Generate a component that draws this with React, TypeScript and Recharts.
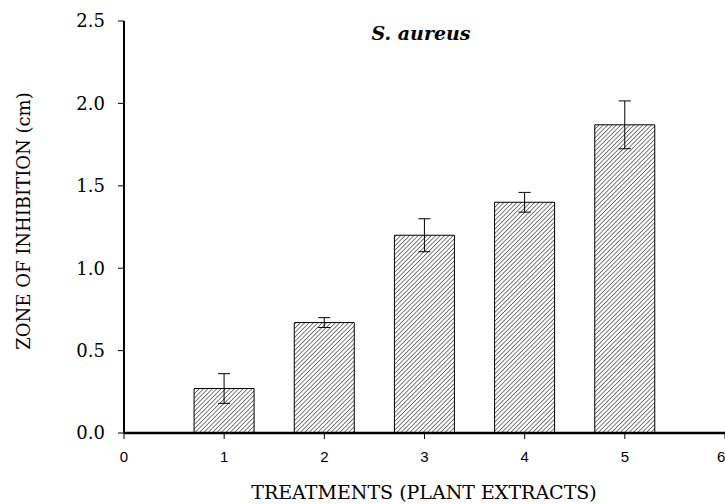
import React from "react";
import {
  ComposedChart,
  Bar,
  XAxis,
  YAxis,
  ErrorBar,
  Label,
} from "recharts";

// S. aureus zone of inhibition per treatment
const treatments = [1, 2, 3, 4, 5];
const zoneMeans = [0.27, 0.67, 1.2, 1.4, 1.87];
const zoneErrors = [0.09, 0.03, 0.1, 0.06, 0.145];
const xTicks = [0, 1, 2, 3, 4, 5, 6];
const yTicks = [0, 0.5, 1.0, 1.5, 2.0, 2.5];

const data = treatments.map((t, i) => ({
  treatment: t,
  zone: zoneMeans[i],
  err: zoneErrors[i],
}));

const serif = "'DejaVu Serif', serif";
const sans = "'Liberation Sans', Arial, sans-serif";

export default function App() {
  return (
    <div style={{ position: "absolute", left: 0, top: 0, width: 725, height: 504, background: "#fff" }}>
      <ComposedChart
        width={725}
        height={504}
        data={data}
        margin={{ top: 21, right: 0, bottom: 0, left: 0 }}
      >
        <defs>
          <pattern
            id="hatch"
            patternUnits="userSpaceOnUse"
            width={3.1}
            height={3.1}
            patternTransform="rotate(45)"
          >
            <rect width={3.1} height={3.1} fill="#fff" />
            <line x1={0} y1={0} x2={0} y2={3.1} stroke="#000" strokeWidth={1} />
          </pattern>
        </defs>
        <XAxis
          dataKey="treatment"
          type="number"
          domain={[0, 6]}
          ticks={xTicks}
          height={71}
          axisLine={{ stroke: "#000", strokeWidth: 2.5 }}
          tickLine={{ stroke: "#000" }}
          tickSize={6}
          tickMargin={12}
          tick={{ fontSize: 15, fill: "#000", fontFamily: sans }}
          allowDataOverflow
        >
          <Label
            content={() => (
              <text
                x={424}
                y={499}
                textAnchor="middle"
                fontFamily={serif}
                fontSize={19}
                fill="#000"
              >
                TREATMENTS (PLANT EXTRACTS)
              </text>
            )}
          />
        </XAxis>
        <YAxis
          type="number"
          domain={[0, 2.5]}
          ticks={yTicks}
          width={124}
          axisLine={{ stroke: "#000", strokeWidth: 2 }}
          tickLine={{ stroke: "#000" }}
          tickSize={6}
          tickMargin={13}
          tickFormatter={(v: number) => v.toFixed(1)}
          tick={{ fontSize: 18, fill: "#000", fontFamily: serif }}
        >
          <Label
            content={() => (
              <text
                x={23}
                y={221}
                transform="rotate(-90 23 221)"
                textAnchor="middle"
                dominantBaseline="central"
                fontFamily={serif}
                fontSize={18}
                fill="#000"
              >
                ZONE OF INHIBITION (cm)
              </text>
            )}
          />
        </YAxis>
        <Bar
          dataKey="zone"
          barSize={60}
          fill="url(#hatch)"
          stroke="#000"
          strokeWidth={1}
          isAnimationActive={false}
        >
          <ErrorBar dataKey="err" direction="y" width={6} stroke="#000" strokeWidth={1} />
        </Bar>
      </ComposedChart>
      <div
        style={{
          position: "absolute",
          left: 321,
          top: 19,
          width: 200,
          textAlign: "center",
          fontFamily: serif,
          fontSize: 19,
          fontWeight: "bold",
          fontStyle: "italic",
          lineHeight: "28px",
        }}
      >
        S. aureus
      </div>
    </div>
  );
}
